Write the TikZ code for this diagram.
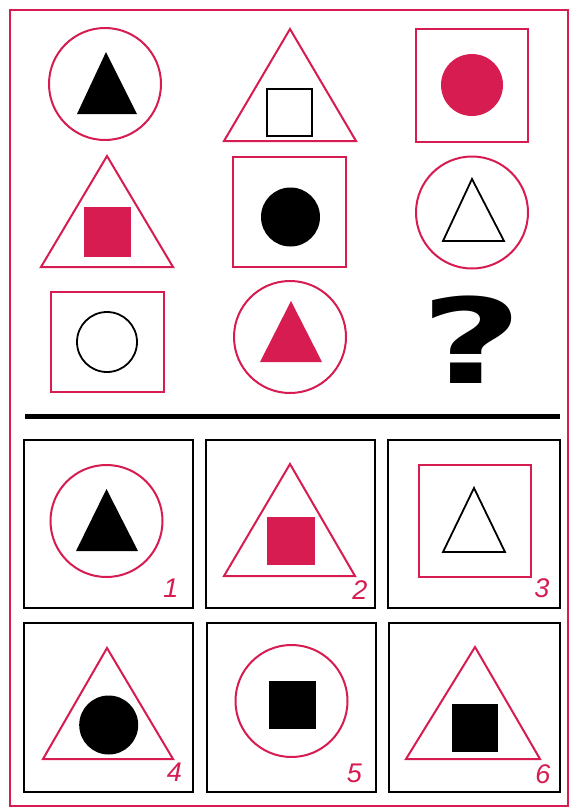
\documentclass[tikz,border=0pt]{standalone}
\usepackage{fontspec}
\newfontfamily\qmarkfont{DejaVu Sans}
\newfontfamily\numfont{Liberation Sans}
\definecolor{puzred}{RGB}{214,28,80}
\begin{document}
\begin{tikzpicture}[x=1pt,y=-1pt,
  redline/.style={draw=puzred,line width=2pt},
  blackline/.style={draw=black,line width=1.8pt},
  boxline/.style={draw=black,line width=2.4pt},
  blackfill/.style={fill=black},
  redfill/.style={fill=puzred},
  numlabel/.style={text=puzred,font=\numfont\itshape\fontsize{27}{27}\selectfont,inner sep=0pt}]
  \useasboundingbox[fill=white] (0,0) rectangle (570,809);

  % outer frame
  \draw[redline] (10,10) rectangle (568,806);

  % matrix, first row
  \draw[redline] (105,84) circle (56pt);
  \fill[blackfill] (106,52) -- (77,114) -- (137,114) -- cycle;
  \draw[redline] (290,29) -- (224,141) -- (356,141) -- cycle;
  \draw[blackline] (267,89) rectangle (312,136);
  \draw[redline] (416,29) rectangle (528,142);
  \fill[redfill] (472,85) circle (31pt);

  % matrix, second row
  \draw[redline] (107,156) -- (41,267) -- (173,267) -- cycle;
  \fill[redfill] (84,207) rectangle (131,257);
  \draw[redline] (233,157) rectangle (346,267);
  \fill[blackfill] (290.5,217) circle (29.5pt);
  \draw[redline] (472,212.5) circle (56pt);
  \draw[blackline] (472,179) -- (443,241) -- (504,241) -- cycle;

  % matrix, third row
  \draw[redline] (51,292) rectangle (164,392);
  \draw[blackline] (107,342) circle (30pt);
  \draw[redline] (290,337) circle (56pt);
  \fill[redfill] (291,301) -- (260,362) -- (322,362) -- cycle;
  \node[font=\qmarkfont\bfseries\fontsize{118}{118}\selectfont,inner sep=0pt,xscale=1.5] (qmark) at (472,340) {?};

  % divider
  \draw[line width=5pt] (25,416) -- (560,416);

  % answer boxes
  \draw[boxline] (24,440) rectangle (193,608);
  \draw[boxline] (206,440) rectangle (375,608);
  \draw[boxline] (388,440) rectangle (560,608);
  \draw[boxline] (24,623) rectangle (193,792);
  \draw[boxline] (207,623) rectangle (376,792);
  \draw[boxline] (389,623) rectangle (560,792);

  % answers
  \draw[redline] (106.5,521) circle (56pt);                    % 1
  \fill[blackfill] (106.5,489) -- (76,551) -- (138,551) -- cycle;
  \draw[redline] (290,464) -- (224,576) -- (355,576) -- cycle; % 2
  \fill[redfill] (267,517) rectangle (314.5,565);
  \draw[redline] (419,465) rectangle (531,577);                % 3
  \draw[blackline] (474,488) -- (443,552) -- (505,552) -- cycle;
  \draw[redline] (107,648) -- (43,759) -- (173,759) -- cycle;  % 4
  \fill[blackfill] (108.7,725) circle (29.5pt);
  \draw[redline] (291.5,701) circle (56pt);                    % 5
  \fill[blackfill] (269,681) rectangle (316,729);
  \draw[redline] (475,647) -- (406,759) -- (540,759) -- cycle; % 6
  \fill[blackfill] (452,704) rectangle (498,752);

  % numbers
  \node[numlabel] (num1) at (171,588) {1};
  \node[numlabel] (num2) at (360,590) {2};
  \node[numlabel] (num3) at (542,588) {3};
  \node[numlabel] (num4) at (174.5,772) {4};
  \node[numlabel] (num5) at (354.5,773) {5};
  \node[numlabel] (num6) at (543,774) {6};
\end{tikzpicture}
\end{document}
